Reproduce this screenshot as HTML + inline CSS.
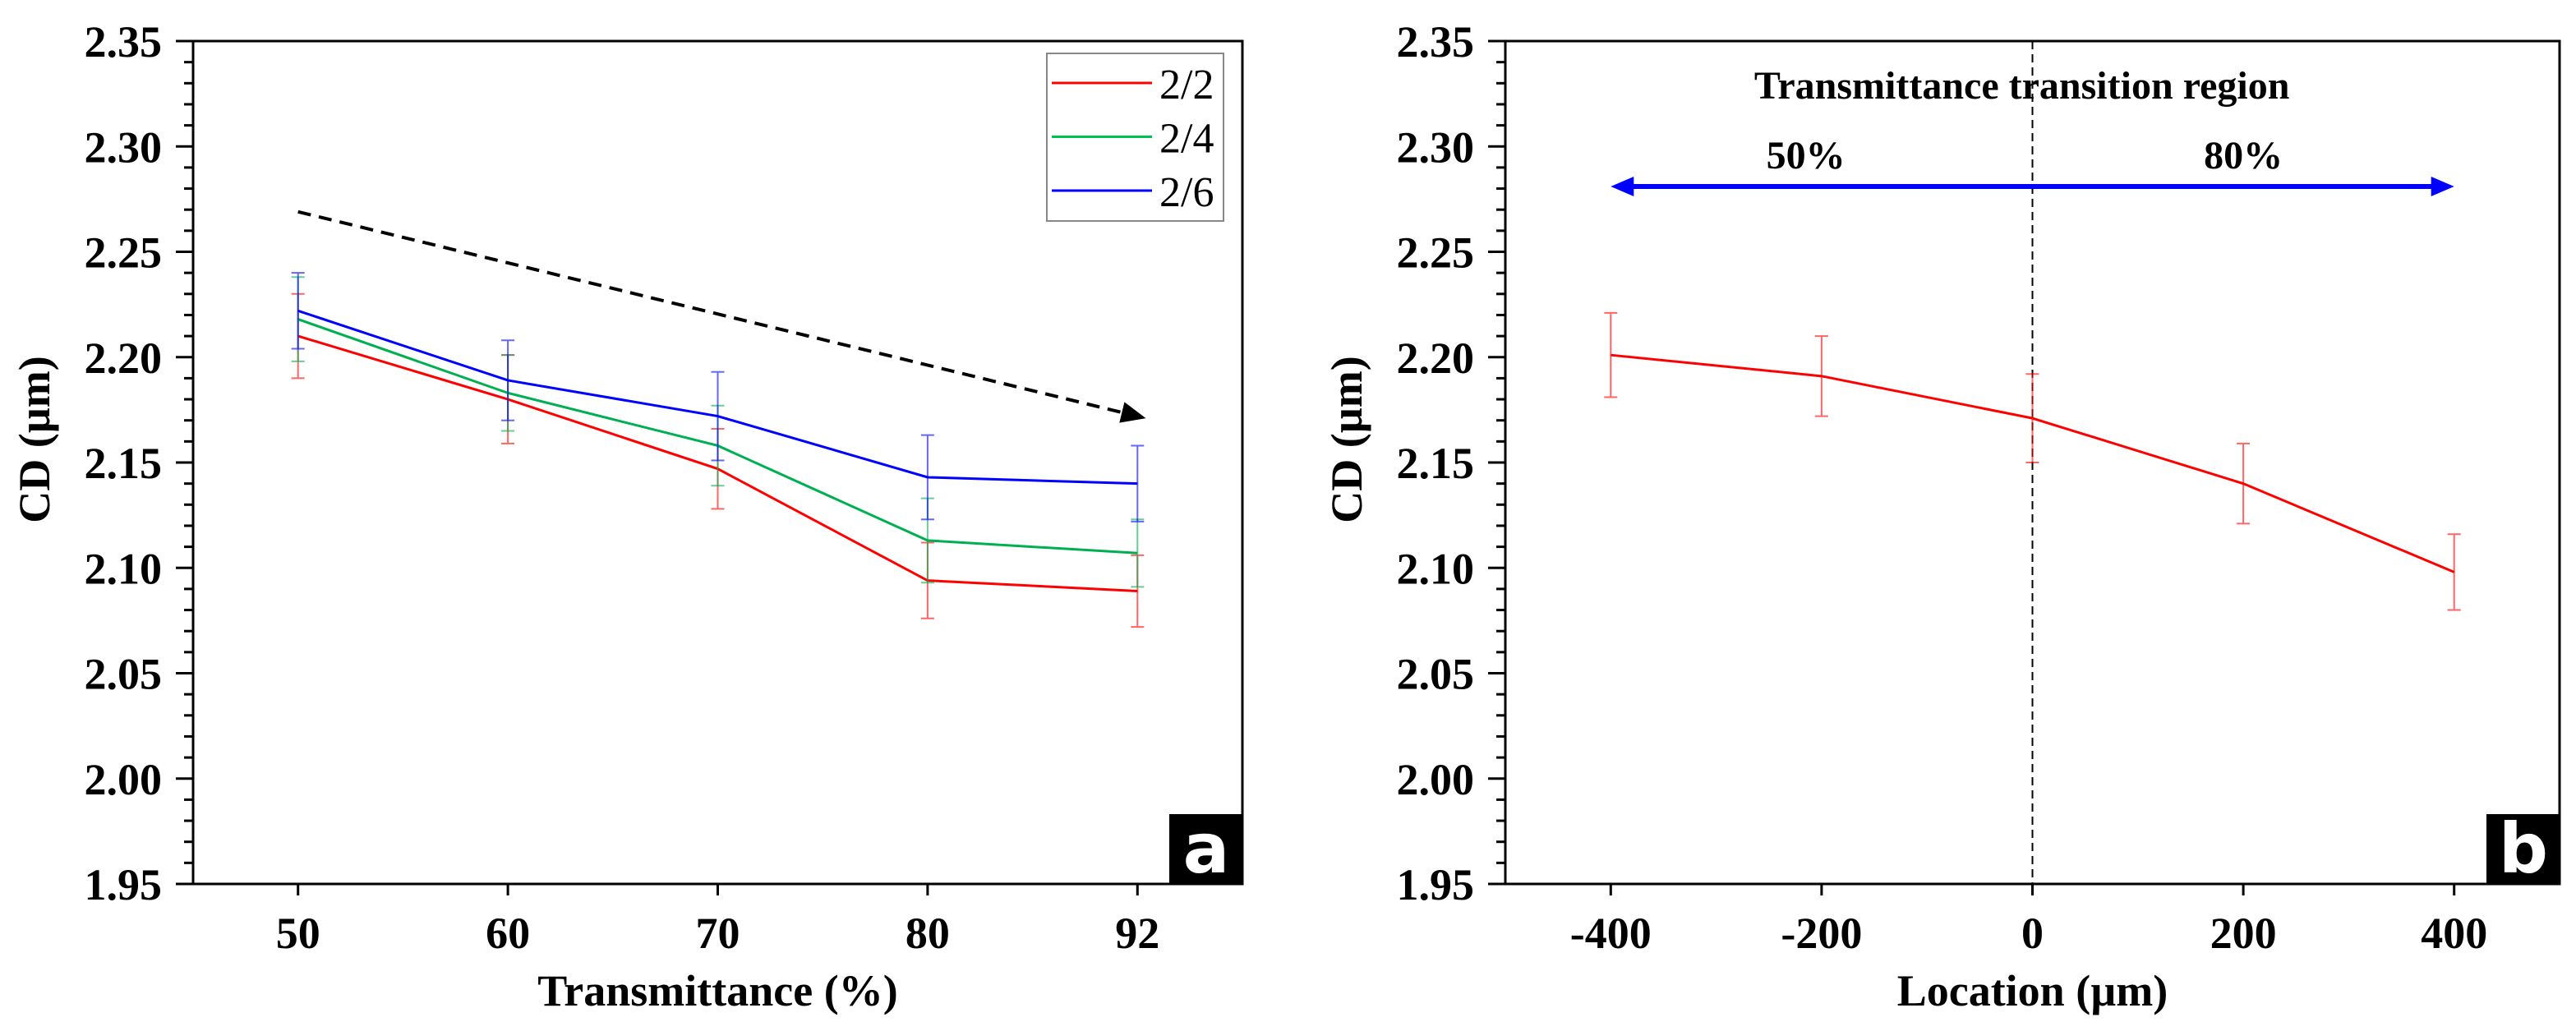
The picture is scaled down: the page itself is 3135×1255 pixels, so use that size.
<!DOCTYPE html>
<html><head><meta charset="utf-8"><style>
html,body{margin:0;padding:0;background:#fff}
svg{display:block}
text{font-family:"Liberation Serif",serif;font-weight:bold;fill:#000}
</style></head><body>
<svg id="chart" width="3135" height="1255" viewBox="0 0 3135 1255" xmlns="http://www.w3.org/2000/svg"></svg>
<script>
// Panel a data
const catsA = ["50","60","70","80","92"];
const red22 = [2.210, 2.180, 2.147, 2.094, 2.089];
const red22Err = [0.020, 0.021, 0.019, 0.018, 0.017];
const green24 = [2.218, 2.183, 2.158, 2.113, 2.107];
const green24Err = [0.020, 0.018, 0.019, 0.020, 0.016];
const blue26 = [2.222, 2.189, 2.172, 2.143, 2.140];
const blue26Err = [0.018, 0.019, 0.021, 0.020, 0.018];
const yTicks = ["1.95","2.00","2.05","2.10","2.15","2.20","2.25","2.30","2.35"];
const trendArrow = [[0, 2.269], [4.04, 2.171]];
// Panel b data
const locB = [-400, -200, 0, 200, 400];
const cdB = [2.201, 2.191, 2.171, 2.140, 2.098];
const cdBErr = [0.020, 0.019, 0.021, 0.019, 0.018];
const xTicksB = ["-400","-200","0","200","400"];
const regionArrowY = 2.281;

const NS = "http://www.w3.org/2000/svg";
const svg = document.getElementById('chart');
function mk(tag, attrs, parent, txt){
  const e = document.createElementNS(NS, tag);
  for (const k in attrs) e.setAttribute(k, attrs[k]);
  if (txt !== undefined) e.textContent = txt;
  (parent || svg).appendChild(e);
  return e;
}
const TOP = 50, BOT = 1076, YMIN = 1.95, YMAX = 2.35;
function yS(v){ return BOT - (v - YMIN) / (YMAX - YMIN) * (BOT - TOP); }

function frame(g, L, R){
  const ax = mk('rect', {x:L, y:TOP, width:R-L, height:BOT-TOP, fill:'none', stroke:'#000', 'stroke-width':3}, g);
  
  
  for (let i = 0; i <= 40; i++){
    const v = YMIN + i * 0.01;
    const y = yS(v);
    const major = i % 5 === 0;
    const t = mk('line', {x1:L-(major?21:11), x2:L, y1:y, y2:y, stroke:'#000', 'stroke-width':3}, g);
    
    
  }
  yTicks.forEach((lab, i) => {
    const v = YMIN + i * 0.05;
    const t = mk('text', {x:L-38, y:yS(v)+19, 'text-anchor':'end', 'font-size':54}, g, lab);
    
    
  });
  const yt = mk('text', {x:0, y:0, 'text-anchor':'middle', 'font-size':54, transform:`translate(${L-175},535) rotate(-90)`}, g, 'CD (µm)');
  
  
}
function errBar(g, x, v, e, color){
  const eg = mk('g', {stroke:color, 'stroke-width':2, opacity:0.6}, g);
  
  
  mk('line', {x1:x, x2:x, y1:yS(v+e), y2:yS(v-e)}, eg);
  mk('line', {x1:x-8, x2:x+8, y1:yS(v+e), y2:yS(v+e)}, eg);
  mk('line', {x1:x-8, x2:x+8, y1:yS(v-e), y2:yS(v-e)}, eg);
}
function series(g, xs, vals, errs, color, name){
  const sg = mk('g', {}, g);
  
  
  xs.forEach((x, i) => errBar(sg, x, vals[i], errs[i], color));
  const pts = xs.map((x, i) => x + ',' + yS(vals[i])).join(' ');
  const pl = mk('polyline', {points:pts, fill:'none', stroke:color, 'stroke-width':3}, sg);
  
  
}
function badge(g, R, letter){
  const b = mk('g', {}, g);
  
  
  mk('rect', {x:R-89, y:991, width:89, height:BOT-991, fill:'#000'}, b);
  mk('text', {x:R-44, y:1062, 'text-anchor':'middle', 'font-size':84, style:'font-family:"DejaVu Sans",sans-serif;font-weight:bold;fill:#fff'}, b, letter);
}

// ---------- Panel a ----------
const gA = mk('g', {});


const LA = 235, RA = 1512;
function xA(i){ return LA + (i + 0.5) / 5 * (RA - LA); }
frame(gA, LA, RA);
catsA.forEach((c, i) => {
  const x = xA(i);
  mk('line', {x1:x, x2:x, y1:BOT, y2:BOT+14, stroke:'#000', 'stroke-width':3}, gA);
  const t = mk('text', {x:x, y:1154, 'text-anchor':'middle', 'font-size':54}, gA, c);
  
  
});
const xtA = mk('text', {x:(LA+RA)/2, y:1224, 'text-anchor':'middle', 'font-size':54}, gA, 'Transmittance (%)');


// trend arrow
const ax1 = xA(trendArrow[0][0]), ay1 = yS(trendArrow[0][1]);
const ax2 = xA(trendArrow[1][0]), ay2 = yS(trendArrow[1][1]);
const ang = Math.atan2(ay2-ay1, ax2-ax1);
const ta = mk('g', {}, gA);


mk('line', {x1:ax1, y1:ay1, x2:ax2-26*Math.cos(ang), y2:ay2-26*Math.sin(ang), stroke:'#000', 'stroke-width':4, 'stroke-dasharray':'16,10'}, ta);
const hx = ax2, hy = ay2, bl = 30, bw = 13;
const bx = hx - bl*Math.cos(ang), by = hy - bl*Math.sin(ang);
mk('polygon', {points:`${hx},${hy} ${bx+bw*Math.sin(ang)},${by-bw*Math.cos(ang)} ${bx-bw*Math.sin(ang)},${by+bw*Math.cos(ang)}`, fill:'#000'}, ta);
const xsA = catsA.map((c, i) => xA(i));
series(gA, xsA, red22, red22Err, '#ff0000', 'series-2-2');
series(gA, xsA, green24, green24Err, '#00b050', 'series-2-4');
series(gA, xsA, blue26, blue26Err, '#0000ff', 'series-2-6');
// legend
const lg = mk('g', {}, gA);


mk('rect', {x:1274, y:65, width:215, height:204, fill:'#fff', stroke:'#888', 'stroke-width':2}, lg);
[['2/2','#ff0000'],['2/4','#00c050'],['2/6','#0000ff']].forEach((e, i) => {
  const y = 101 + i * 65.5;
  const le = mk('g', {}, lg);
  
  
  mk('line', {x1:1280, x2:1402, y1:y, y2:y, stroke:e[1], 'stroke-width':3}, le);
  mk('text', {x:1411, y:y+19, 'font-size':52, style:'font-weight:normal'}, le, e[0]);
});
badge(gA, RA, 'a');

// ---------- Panel b ----------
const gB = mk('g', {});


const LB = 1832, RB = 3115;
function xB(v){ return LB + (v + 500) / 1000 * (RB - LB); }
frame(gB, LB, RB);
xTicksB.forEach(lab => {
  const x = xB(parseFloat(lab));
  mk('line', {x1:x, x2:x, y1:BOT, y2:BOT+14, stroke:'#000', 'stroke-width':3}, gB);
  const t = mk('text', {x:x, y:1154, 'text-anchor':'middle', 'font-size':54}, gB, lab);
  
  
});
const xtB = mk('text', {x:(LB+RB)/2, y:1224, 'text-anchor':'middle', 'font-size':54}, gB, 'Location (µm)');


const vd = mk('line', {x1:xB(0), x2:xB(0), y1:TOP, y2:BOT, stroke:'#000', 'stroke-width':2, 'stroke-dasharray':'10,6'}, gB);


const ra = mk('g', {}, gB);


const ry = yS(regionArrowY), rl = xB(-400), rr = xB(400);
mk('line', {x1:rl+24, x2:rr-24, y1:ry, y2:ry, stroke:'#0000ff', 'stroke-width':6}, ra);
mk('polygon', {points:`${rl},${ry} ${rl+28},${ry-12} ${rl+28},${ry+12}`, fill:'#0000ff'}, ra);
mk('polygon', {points:`${rr},${ry} ${rr-28},${ry-12} ${rr-28},${ry+12}`, fill:'#0000ff'}, ra);
const t1 = mk('text', {x:xB(-10), y:120, 'text-anchor':'middle', 'font-size':48}, gB, 'Transmittance transition region');


const t2 = mk('text', {x:xB(-215), y:205, 'text-anchor':'middle', 'font-size':48}, gB, '50%');


const t3 = mk('text', {x:xB(200), y:205, 'text-anchor':'middle', 'font-size':48}, gB, '80%');


series(gB, locB.map(xB), cdB, cdBErr, '#ff0000', 'series-cd-location');
badge(gB, RB, 'b');
</script>
</body></html>
